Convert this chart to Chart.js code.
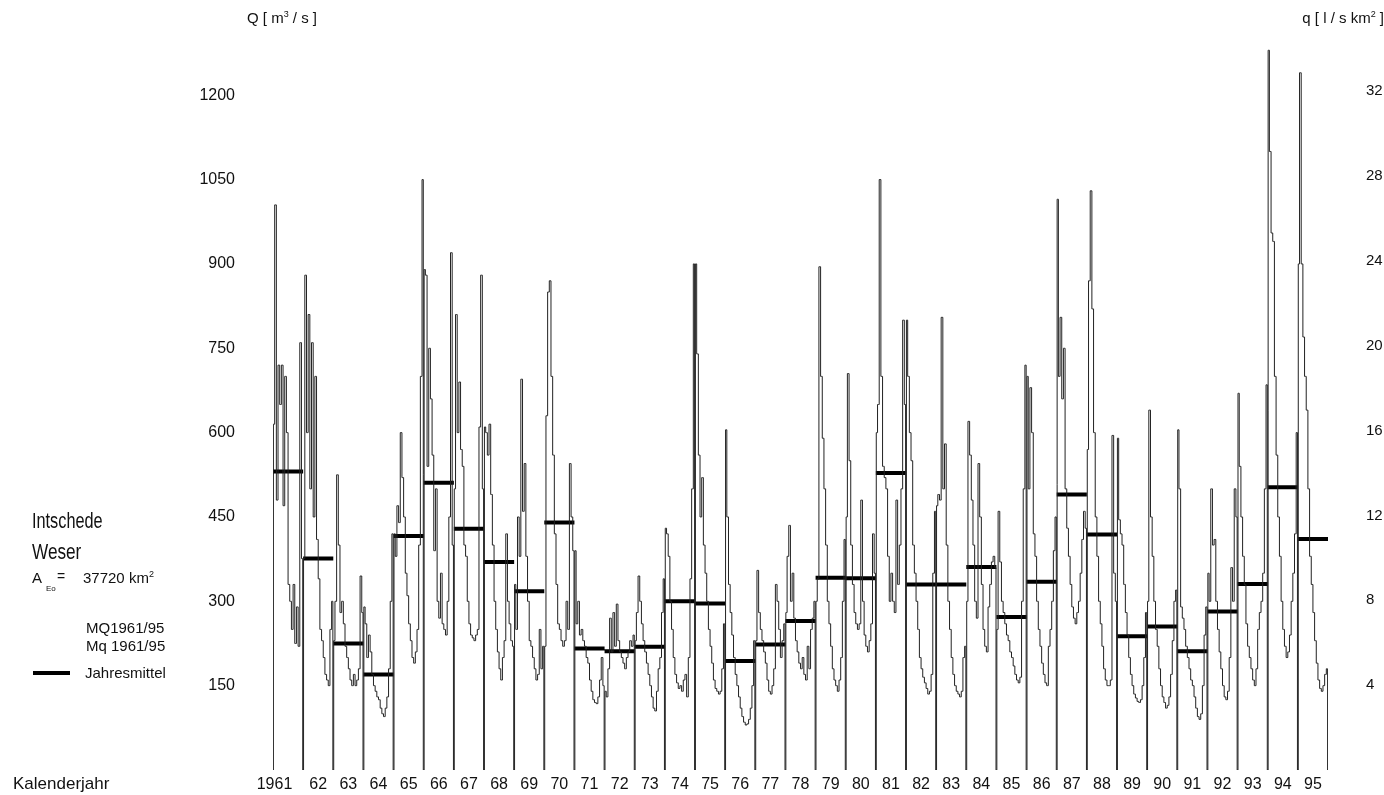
<!DOCTYPE html>
<html>
<head>
<meta charset="utf-8">
<title>Intschede / Weser - Abflussganglinie 1961-95</title>
<script src="https://cdn.jsdelivr.net/npm/chart.js@4.4.1/dist/chart.umd.min.js"></script>
<style>
  body { margin: 0; background: #fff; }
  #wrap { position: relative; width: 1384px; height: 795px; font-family: 'Liberation Sans', Arial, sans-serif; color: #111; }
  #wrap canvas { position: absolute; left: 0; top: 0; }
  .lbl { position: absolute; white-space: nowrap; line-height: 1; font-size: 15px; }
  .narrow { font-size: 22px; transform-origin: left top; }
  .sub { font-size: 8px; }
  .key { position: absolute; background: #000; }
</style>
</head>
<body>
<div id="wrap">
  <canvas id="chart" width="1384" height="795"></canvas>
  <div class="lbl" style="left:247px;top:10px">Q [ m<sup style="font-size:9px">3</sup> / s ]</div>
  <div class="lbl" style="right:0;top:10px">q [ l / s km<sup style="font-size:9px">2</sup> ]</div>
  <div class="lbl narrow" style="left:32px;top:510px;transform:scaleX(0.74)">Intschede</div>
  <div class="lbl narrow" style="left:32px;top:541px;transform:scaleX(0.78)">Weser</div>
  <div class="lbl" style="left:32px;top:570px">A</div>
  <div class="lbl sub" style="left:46px;top:585px">Eo</div>
  <div class="lbl" style="left:57px;top:569px;font-size:14px">=</div>
  <div class="lbl" style="left:83px;top:570px">37720 km<sup style="font-size:9px">2</sup></div>
  <div class="lbl" style="left:86px;top:620px">MQ1961/95</div>
  <div class="lbl" style="left:86px;top:638px">Mq 1961/95</div>
  <div class="key" style="left:33px;top:671px;width:37px;height:4px"></div>
  <div class="lbl" style="left:85px;top:665px">Jahresmittel</div>
  <div class="lbl" style="left:13px;top:775px;font-size:17px">Kalenderjahr</div>
</div>
<script>
// Abfluss Intschede (Weser), Kalenderjahre 1961-1995
const firstYear = 1961;
const yearLabels = ['1961', '62', '63', '64', '65', '66', '67', '68', '69', '70',
  '71', '72', '73', '74', '75', '76', '77', '78', '79', '80',
  '81', '82', '83', '84', '85', '86', '87', '88', '89', '90',
  '91', '92', '93', '94', '95'];

// Jahresmittel Q [m3/s]
const annualMean = [531, 376, 225, 170, 416, 511, 429, 370, 318, 440,
  216, 211, 219, 300, 296, 194, 223, 265, 342, 341,
  528, 330, 330, 361, 272, 335, 490, 419, 238, 255,
  211, 282, 331, 503, 411];

// Abflusswerte Q [m3/s] ueber das Jahr (je Jahr gleichmaessig verteilt)
const flow = [
  [615, 1005, 480, 720, 650, 720, 470, 700, 600, 330, 300, 250, 330, 225, 290, 220, 760, 376], // 1961
  [376, 880, 600, 810, 500, 760, 450, 700, 410, 340, 250, 230, 200, 170, 160, 150, 250, 300],
  [230, 300, 525, 400, 280, 300, 260, 220, 200, 180, 160, 150, 170, 150, 160, 180, 345, 280],
  [290, 260, 200, 240, 210, 170, 150, 140, 130, 125, 110, 100, 95, 110, 130, 180, 300, 420],
  [420, 380, 470, 440, 600, 520, 450, 350, 310, 260, 230, 200, 190, 210, 250, 400, 700, 1050], // 1965
  [890, 880, 540, 750, 660, 560, 390, 500, 300, 270, 350, 260, 250, 240, 300, 450, 920, 400],
  [500, 810, 600, 690, 570, 540, 400, 380, 300, 260, 240, 235, 230, 240, 250, 610, 880, 500],
  [610, 600, 560, 615, 490, 400, 300, 250, 210, 180, 160, 200, 230, 420, 300, 260, 230, 220],
  [330, 250, 450, 380, 695, 460, 545, 380, 300, 230, 220, 200, 180, 160, 170, 250, 180, 220],
  [220, 630, 850, 870, 700, 560, 420, 330, 260, 250, 230, 220, 230, 300, 250, 545, 450, 390], // 1970
  [390, 260, 300, 240, 250, 230, 220, 200, 190, 160, 140, 125, 120, 118, 130, 160, 200, 150],
  [140, 130, 180, 270, 210, 280, 220, 295, 230, 210, 200, 190, 180, 200, 210, 230, 220, 240],
  [230, 280, 345, 300, 260, 230, 210, 190, 170, 150, 130, 110, 105, 140, 180, 200, 280, 340],
  [430, 420, 380, 300, 250, 200, 170, 155, 145, 150, 140, 160, 170, 130, 200, 340, 500, 900],
  [900, 740, 560, 450, 520, 400, 350, 300, 250, 220, 190, 160, 145, 140, 135, 140, 180, 260], // 1975
  [605, 450, 330, 280, 240, 200, 170, 150, 130, 110, 95, 85, 80, 82, 90, 110, 150, 230],
  [230, 355, 280, 250, 230, 210, 190, 160, 140, 135, 150, 180, 330, 300, 250, 200, 230, 260],
  [280, 380, 435, 300, 350, 270, 230, 210, 190, 180, 200, 170, 160, 220, 180, 250, 270, 300],
  [300, 340, 895, 700, 590, 500, 400, 300, 260, 220, 180, 160, 150, 140, 160, 200, 300, 410],
  [450, 705, 550, 400, 330, 280, 260, 250, 260, 480, 300, 240, 220, 210, 230, 260, 420, 350], // 1980
  [600, 650, 1050, 700, 540, 520, 500, 380, 300, 350, 300, 280, 480, 330, 400, 500, 800, 650],
  [800, 700, 600, 550, 400, 350, 300, 250, 200, 180, 165, 155, 145, 135, 140, 170, 350, 460],
  [470, 490, 480, 805, 500, 580, 400, 300, 250, 200, 170, 150, 140, 135, 130, 140, 200, 220],
  [300, 620, 560, 480, 400, 300, 270, 545, 450, 330, 250, 220, 210, 290, 330, 370, 380, 360],
  [250, 460, 370, 300, 280, 260, 240, 230, 210, 200, 185, 170, 160, 155, 165, 300, 500, 720], // 1985
  [700, 500, 680, 600, 420, 380, 300, 250, 220, 190, 170, 155, 150, 220, 250, 300, 390, 450],
  [1015, 700, 805, 660, 750, 500, 430, 380, 330, 290, 270, 260, 280, 300, 350, 410, 460, 430],
  [570, 870, 1030, 820, 600, 450, 380, 300, 260, 220, 180, 160, 150, 150, 160, 595, 350, 300],
  [590, 445, 420, 400, 330, 280, 240, 200, 170, 150, 135, 128, 122, 120, 125, 150, 200, 280],
  [300, 640, 450, 380, 300, 250, 220, 180, 150, 130, 120, 110, 115, 130, 170, 230, 300, 320], // 1990
  [605, 500, 290, 270, 250, 220, 200, 180, 160, 150, 130, 110, 95, 90, 100, 150, 240, 290],
  [350, 300, 500, 400, 410, 300, 250, 210, 180, 150, 130, 125, 140, 200, 360, 300, 500, 450],
  [670, 540, 450, 380, 330, 260, 220, 200, 180, 160, 150, 180, 250, 280, 300, 350, 500, 685],
  [1280, 1100, 955, 940, 700, 560, 450, 380, 300, 250, 220, 200, 210, 240, 300, 350, 420, 600],
  [900, 1240, 900, 770, 700, 640, 500, 380, 330, 280, 230, 190, 160, 145, 140, 150, 170, 180]  // 1995
];

const qTicks = [150, 300, 450, 600, 750, 900, 1050, 1200];
const qSpecTicks = [4, 8, 12, 16, 20, 24, 28, 32];
const catchmentArea = 37720; // km2

const yMax = 1300;

// each year drawn from the zero line up and back down again
const flowPoints = [];
flow.forEach((vals, i) => {
  const yr = firstYear + i;
  flowPoints.push({ x: yr, y: 0 });
  vals.forEach((v, k) => flowPoints.push({ x: yr + (k + 0.5) / vals.length, y: v }));
  flowPoints.push({ x: yr + 1, y: 0 });
});

const meanPoints = [];
annualMean.forEach((m, i) => {
  const yr = firstYear + i;
  meanPoints.push({ x: yr, y: m }, { x: yr + 1, y: m }, { x: yr + 1, y: null });
});

// y axes: fixed width, no extra label padding above/below the plot
const fixAxis = (w) => (axis) => {
  axis.width = w;
  axis.paddingTop = 0;
  axis.paddingBottom = 0;
};

Chart.defaults.font.family = "'Liberation Sans', Arial, sans-serif";
Chart.defaults.color = '#111';

const ctx = document.getElementById('chart');
new Chart(ctx, {
  type: 'line',
  data: {
    datasets: [
      {
        label: 'Q',
        data: flowPoints,
        borderColor: '#222',
        borderWidth: 1,
        pointRadius: 0,
        stepped: 'middle',
        yAxisID: 'y'
      },
      {
        label: 'Jahresmittel',
        data: meanPoints,
        borderColor: '#000',
        borderWidth: 4,
        borderCapStyle: 'butt',
        pointRadius: 0,
        spanGaps: false,
        yAxisID: 'y'
      }
    ]
  },
  options: {
    responsive: false,
    animation: false,
    layout: { padding: { left: 193, right: 0, top: 39, bottom: 0 } },
    plugins: { legend: { display: false }, tooltip: { enabled: false } },
    scales: {
      x: {
        type: 'linear',
        min: firstYear,
        max: firstYear + yearLabels.length,
        grid: { display: false, drawTicks: false },
        border: { display: false },
        afterBuildTicks: (axis) => {
          axis.ticks = yearLabels.map((l, i) => ({ value: firstYear + i + (i === 0 ? 0.05 : 0.5) }));
        },
        afterFit: (axis) => {
          axis.height = 25;
          axis.paddingLeft = 0;
          axis.paddingRight = 0;
        },
        ticks: {
          autoSkip: false,
          maxRotation: 0,
          padding: 5,
          font: { size: 16 },
          callback: (v, i) => yearLabels[i]
        }
      },
      y: {
        position: 'left',
        min: 0,
        max: yMax,
        grid: { display: false, drawTicks: false },
        border: { display: false },
        afterBuildTicks: (axis) => { axis.ticks = qTicks.map(v => ({ value: v })); },
        afterFit: fixAxis(80),
        ticks: { padding: 38, font: { size: 16 }, callback: (v) => String(v) }
      },
      y2: {
        position: 'right',
        min: 0,
        max: yMax * 1000 / catchmentArea,
        grid: { display: false, drawTicks: false },
        border: { display: false },
        afterBuildTicks: (axis) => { axis.ticks = qSpecTicks.map(v => ({ value: v })); },
        afterFit: fixAxis(56),
        ticks: { padding: 38, font: { size: 15 }, callback: (v) => String(v) }
      }
    }
  }
});
</script>
</body>
</html>
